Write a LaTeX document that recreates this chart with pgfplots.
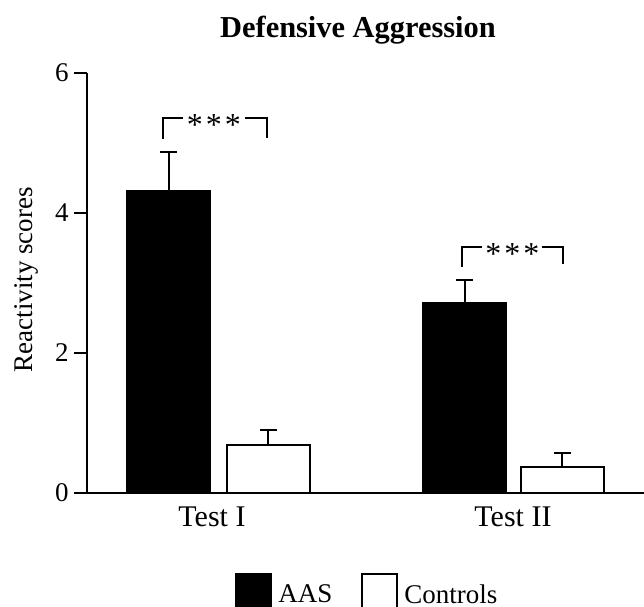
\documentclass[border=0pt]{standalone}
\usepackage{fontspec}
\setmainfont{Liberation Serif}
\usepackage{pgfplots}
\pgfplotsset{compat=1.18}
\pgfplotsset{boxlegend/.style={legend image code/.code={\draw[##1, line width=1pt] (0pt,-7pt) rectangle (17.5pt,10.5pt);}}}
\begin{document}
\begin{tikzpicture}
\begin{axis}[
  name=ax,
  at={(0,0)}, anchor=south west,
  scale only axis, width=278.5pt, height=210pt,
  xmin=0, xmax=557, ymin=0, ymax=6,
  axis x line=bottom, axis y line=left,
  axis line style={-, line width=1pt},
  ytick={0,2,4,6},
  xtick={125,426}, xticklabels={Test I, Test II},
  x tick style={draw=none},
  y tick style={line width=1pt, black},
  major tick length=6.5pt,
  tick align=outside,
  /pgf/number format/assume math mode=true,
  yticklabel style={font=\fontsize{13.5}{13.5}\selectfont, inner sep=0pt, xshift=-2.5pt},
  xticklabel style={font=\fontsize{15}{15}\selectfont, inner sep=0pt},
  ylabel={Reactivity scores},
  ylabel style={at={(axis description cs:-0.097,0.508)}, anchor=base, font=\fontsize{13.5}{13.5}\selectfont},
  title={Defensive Aggression},
  title style={at={(axis description cs:0.4865,1)}, anchor=base, yshift=11.5pt, font=\bfseries\fontsize{15.2}{15.2}\selectfont},
  ybar, bar width=83, bar shift=0,
  legend style={at={(0.505,0)}, anchor=north, yshift=-40pt, draw=none, fill=none, inner sep=0pt,
    font=\fontsize{13.5}{13.5}\selectfont, legend columns=-1,
    /tikz/every odd column/.append style={column sep=1pt},
    /tikz/every even column/.append style={column sep=12.5pt}},
]
\addplot[ybar, bar width=83, bar shift=0, fill=black, draw=black, line width=1pt, boxlegend,
  error bars/.cd, y dir=plus, y explicit,
  error bar style={line width=1pt, black},
  error mark options={rotate=90, mark size=4.25pt, line width=1pt, black}]
  coordinates {(82,4.31) +- (0,0.56) (378,2.72) +- (0,0.32)};
\addlegendentry{AAS}
\addplot[ybar, bar width=83, bar shift=0, fill=white, draw=black, line width=1pt, boxlegend,
  error bars/.cd, y dir=plus, y explicit,
  error bar style={line width=1pt, black},
  error mark options={rotate=90, mark size=4.25pt, line width=1pt, black}]
  coordinates {(181.5,0.686) +- (0,0.214) (475.5,0.376) +- (0,0.2)};
\addlegendentry{Controls}
\draw[line width=1pt] (axis cs:76,5.057) |- (axis cs:96,5.357);
\draw[line width=1pt] (axis cs:158,5.357) -| (axis cs:180,5.07);
\node[font=\fontsize{16}{16}\selectfont, inner sep=0pt, anchor=base] at (axis cs:127,5.10) {*\kern1.5pt*\kern1.5pt*};
\draw[line width=1pt] (axis cs:375,3.229) |- (axis cs:395,3.514);
\draw[line width=1pt] (axis cs:455,3.514) -| (axis cs:476,3.271);
\node[font=\fontsize{16}{16}\selectfont, inner sep=0pt, anchor=base] at (axis cs:425.5,3.26) {*\kern1.5pt*\kern1.5pt*};
\end{axis}
\pgfresetboundingbox
\useasboundingbox ([shift={(-43.5pt,-57pt)}]ax.south west) rectangle ([shift={(0pt,36.5pt)}]ax.north east);
\end{tikzpicture}
\end{document}
